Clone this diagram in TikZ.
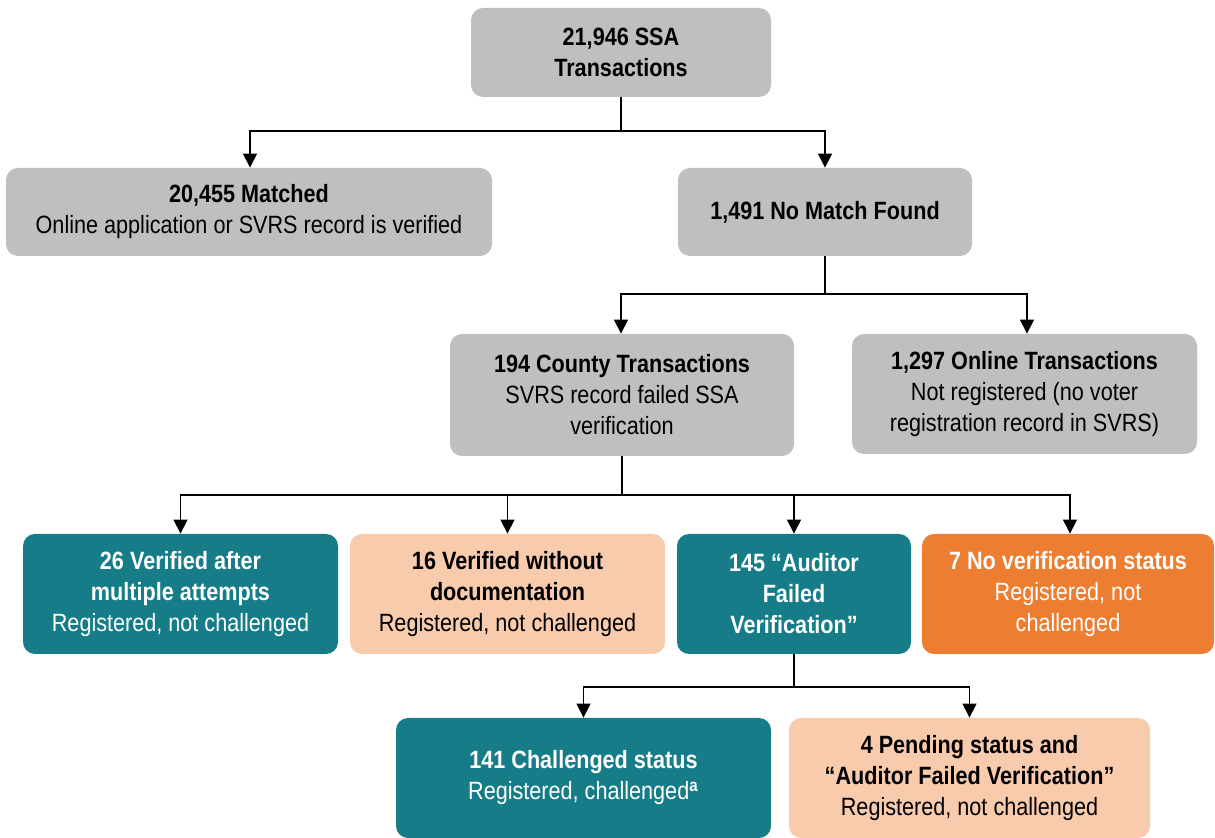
\documentclass[tikz,border=0pt]{standalone}
\usepackage{fontspec}
\setmainfont[FakeStretch=0.865]{Liberation Sans}
\usetikzlibrary{arrows.meta,positioning}
\definecolor{boxgray}{HTML}{BFBFBF}
\definecolor{boxteal}{HTML}{167C88}
\definecolor{boxpeach}{HTML}{F8CBAD}
\definecolor{boxorange}{HTML}{ED7D31}

\begin{document}
\begin{tikzpicture}[x=0.5pt,y=-0.5pt,
	box/.style={rounded corners=6pt,align=center,inner sep=0pt,
		font=\fontsize{12.5}{15.5}\selectfont},
	grey/.style={box,fill=boxgray,text=black},
	dark/.style={box,fill=boxteal,text=white},
	light/.style={box,fill=boxpeach,text=black},
	warn/.style={box,fill=boxorange,text=white},
	link/.style={-{Triangle[width=7pt,length=7pt]},line width=0.65pt}]
	\useasboundingbox (0,0) rectangle (1215,838);
	% boxes
	\node[grey,minimum width=150pt,minimum height=44.5pt] (ssa) at (621,52.5) {\textbf{21,946 SSA}\\\textbf{Transactions}};
	\node[grey,minimum width=243pt,minimum height=44pt] (matched) at (249,212) {\textbf{20,455 Matched}\\Online application or SVRS record is verified};
	\node[grey,minimum width=147pt,minimum height=44pt] (nomatch) at (825,212) {\textbf{1,491 No Match Found}};
	\node[grey,minimum width=172pt,minimum height=61pt] (county) at (622,395) {\textbf{194 County Transactions}\\SVRS record failed SSA\\verification};
	\node[grey,minimum width=172.5pt,minimum height=60pt] (online) at (1024.5,394) {\textbf{1,297 Online Transactions}\\Not registered (no voter\\registration record in SVRS)};
	\node[dark,minimum width=157.5pt,minimum height=60pt] (multi) at (180.5,594) {\textbf{26 Verified after}\\\textbf{multiple attempts}\\Registered, not challenged};
	\node[light,minimum width=157.5pt,minimum height=60pt] (nodoc) at (507.5,594) {\textbf{16 Verified without}\\\textbf{documentation}\\Registered, not challenged};
	\node[dark,minimum width=117pt,minimum height=60pt] (failed) at (794,594) {\textbf{145 ``Auditor}\\\textbf{Failed}\\\textbf{Verification''}};
	\node[warn,minimum width=146pt,minimum height=60pt] (nostatus) at (1068,594) {\textbf{7 No verification status}\\Registered, not\\challenged};
	\node[dark,minimum width=187.5pt,minimum height=60pt] (challenged) at (583.5,778) {\textbf{141 Challenged status}\\Registered, challenged\textsuperscript{\textbf{a}}};
	\node[light,minimum width=180.5pt,minimum height=60pt] (pending) at (969.5,778) {\textbf{4 Pending status and}\\\textbf{``Auditor Failed Verification''}\\Registered, not challenged};
	% joints
	\coordinate (j1) at (621,131);
	\coordinate (j2) at (825,294);
	\coordinate (j3) at (622,495);
	\coordinate (j4) at (794,687);
	% connectors
	\draw[line width=0.65pt] (ssa) -- (j1);
	\draw[link] (j1) -| ([xshift=0.5pt]matched.north);
	\draw[link] (j1) -| (nomatch.north);
	\draw[line width=0.65pt] (nomatch) -- (j2);
	\draw[link] (j2) -| ([xshift=-0.5pt]county.north);
	\draw[link] (j2) -| ([xshift=1.25pt]online.north);
	\draw[line width=0.65pt] (county) -- (j3);
	\draw[link] (j3) -| (multi.north);
	\draw[link] (j3) -| (nodoc.north);
	\draw[link] (j3) -| (failed.north);
	\draw[link] (j3) -| ([xshift=1pt]nostatus.north);
	\draw[line width=0.65pt] (failed) -- (j4);
	\draw[link] (j4) -| (challenged.north);
	\draw[link] (j4) -| (pending.north);
\end{tikzpicture}
\end{document}
